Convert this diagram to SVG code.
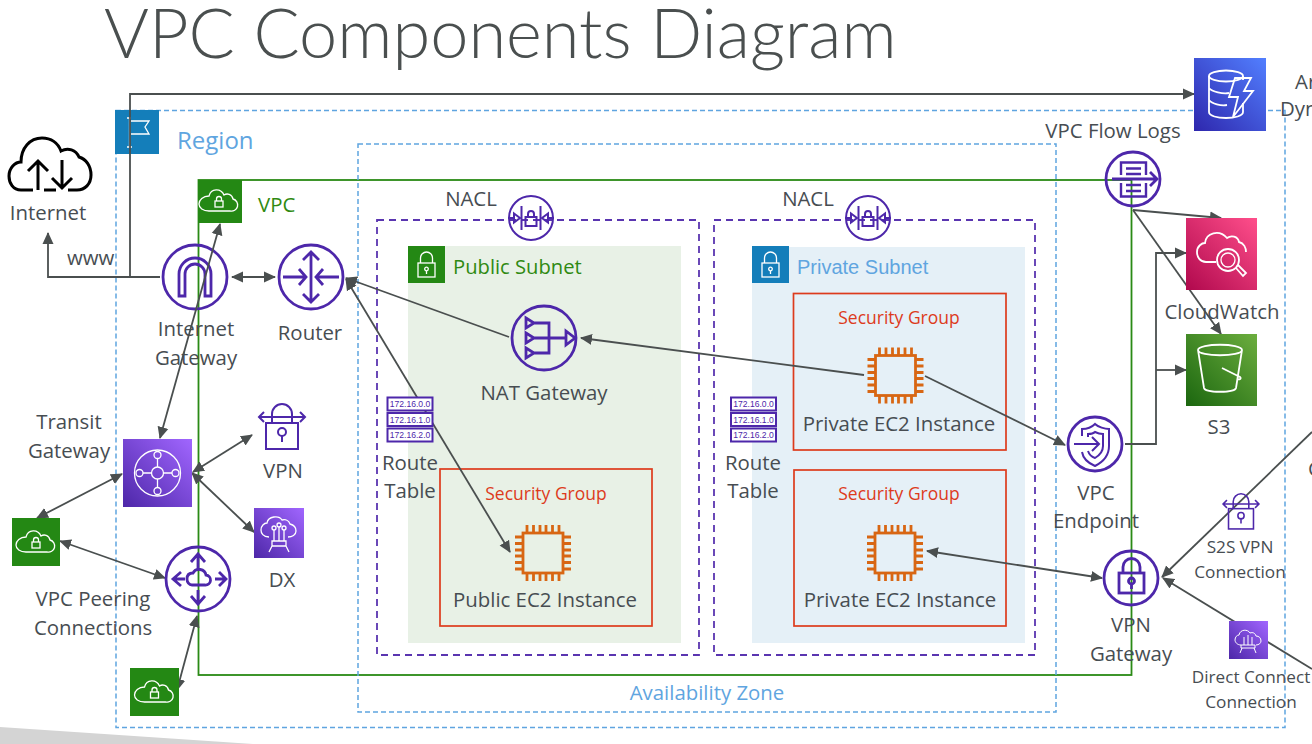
<svg xmlns="http://www.w3.org/2000/svg" width="1312" height="744" viewBox="0 0 1312 744">
<style>
text{font-family:"Open Sans","Noto Sans","DejaVu Sans",sans-serif;font-size:20.400px;fill:#474d52}
.c{text-anchor:middle}
.sg{font-size:17.500px;fill:#dd3b1c;text-anchor:middle}
.s{font-size:17.200px;text-anchor:middle}
.blue{fill:#5fa5e0}
.rt{font-size:8.600px;fill:#4d27aa;text-anchor:middle;font-family:"Liberation Sans",sans-serif}
.p{fill:none;stroke:#4d27aa;stroke-width:2.800}
.t{stroke-width:2}
.w{fill:none;stroke:#fff;stroke-width:1.300}
.o{fill:none;stroke:#d86613;stroke-width:2.800}
.dashb{fill:none;stroke:#5fa5e0;stroke-width:1.500;stroke-dasharray:5 3}
.dashp{fill:none;stroke:#5a35b0;stroke-width:1.800;stroke-dasharray:7 5}
.sgb{fill:none;stroke:#dd3b1c;stroke-width:1.700}
.ln{fill:none;stroke:#4a4f4f;stroke-width:1.800}
.one{marker-end:url(#a)}
.two{marker-start:url(#b);marker-end:url(#a)}
</style>
<defs>
<marker id="a" viewBox="0 0 12 12" refX="11" refY="6" markerWidth="12" markerHeight="12" orient="auto" markerUnits="userSpaceOnUse"><path d="M0 0.500L12 6L0 11.500Z" fill="#4a4f4f"/></marker>
<marker id="b" viewBox="0 0 12 12" refX="1" refY="6" markerWidth="12" markerHeight="12" orient="auto" markerUnits="userSpaceOnUse"><path d="M12 0.500L0 6L12 11.500Z" fill="#4a4f4f"/></marker>
<linearGradient id="gp" x1="0" y1="1" x2="1" y2="0"><stop offset="0" stop-color="#4d27a8"/><stop offset="1" stop-color="#a166ff"/></linearGradient>
<linearGradient id="gg" x1="0" y1="1" x2="1" y2="0"><stop offset="0" stop-color="#1b660f"/><stop offset="1" stop-color="#6cae3e"/></linearGradient>
<linearGradient id="gr" x1="0" y1="1" x2="1" y2="0"><stop offset="0" stop-color="#b0084d"/><stop offset="1" stop-color="#ff4f8b"/></linearGradient>
<linearGradient id="gb" x1="0" y1="1" x2="1" y2="0"><stop offset="0" stop-color="#2e27ad"/><stop offset="1" stop-color="#527fff"/></linearGradient>
<g id="chip">
<rect x="-20" y="-20" width="40" height="40" class="o"/>
<path class="o" d="M-16-20v-8M-9.500-20v-8M-3-20v-8M3-20v-8M9.500-20v-8M16-20v-8M-16 20v8M-9.500 20v8M-3 20v8M3 20v8M9.500 20v8M16 20v8M-20-16h-8M-20-9.500h-8M-20-3h-8M-20 3h-8M-20 9.500h-8M-20 16h-8M20-16h8M20-9.500h8M20-3h8M20 3h8M20 9.500h8M20 16h8"/>
</g>
<g id="route">
<rect x="0" y="0" width="45" height="13" fill="#fff" stroke="#4d27aa" stroke-width="2"/>
<rect x="0" y="15.500" width="45" height="13" fill="#fff" stroke="#4d27aa" stroke-width="2"/>
<rect x="0" y="31" width="45" height="13" fill="#fff" stroke="#4d27aa" stroke-width="2"/>
<text class="rt" x="22.500" y="9.700">172.16.0.0</text>
<text class="rt" x="22.500" y="25.200">172.16.1.0</text>
<text class="rt" x="22.500" y="40.700">172.16.2.0</text>
</g>
<g id="nacl">
<circle r="22" class="p t" fill="none"/>
<path class="p t" d="M-9.500-12V12M9.500-12V12M-23 0h6M23 0h-6"/>
<path class="p t" d="M-11 0l-6-4.500v9ZM11 0l6-4.500v9Z"/>
<rect x="-5.500" y="-1" width="11" height="9" class="p t"/>
<path class="p t" d="M-3-1v-3a3 3 0 0 1 6 0v3"/>
</g>
<g id="vpccloud">
<path class="w" d="M-10 11h21a6 6 0 0 0 3-12c-1-5-6-6-9-4c-3-7-13-7-15 1c-6 0-10 4-10 8s4 7 10 7Z"/>
<rect x="-4" y="1" width="8" height="6" class="w"/>
<path class="w" d="M-2.500 1v-2a2.500 2.500 0 0 1 5 0v2"/>
</g>
<g id="sublock">
<rect x="-8.500" y="-2" width="17" height="14" class="w"/>
<path class="w" d="M-6-2v-5a6 6 0 0 1 12 0v5"/>
<circle cy="4" r="1.800" class="w"/><path class="w" d="M0 6v3"/>
</g>
<g id="vpnlock">
<rect x="-16" y="-3" width="32" height="26" class="p t"/>
<path class="p t" d="M-10-3v-9a10 10 0 0 1 20 0v9M-22-9H22M-18-14l-5 5l5 5M18-14l5 5l-5 5"/>
<circle cy="6" r="4" class="p t"/><path class="p t" d="M0 10v6"/>
</g>
</defs>
<rect width="1312" height="744" fill="#fff"/>
<polygon points="0,727 253,744 0,744" fill="#d4d4d4"/>
<g id="containers">
<rect class="dashb" x="116" y="110.500" width="1169" height="617"/>
<rect x="198.500" y="180" width="933" height="495" fill="none" stroke="#2a8a15" stroke-width="1.800"/>
<rect class="dashb" x="358" y="144" width="698" height="568"/>
<rect class="dashp" x="377" y="220" width="322" height="435"/>
<rect class="dashp" x="714" y="220" width="321" height="435"/>
<rect x="408" y="246" width="273" height="397" fill="#e8f1e6"/>
<rect x="752" y="247" width="273" height="396" fill="#e5f0f7"/>
<rect class="sgb" x="440" y="469" width="212" height="157"/>
<rect class="sgb" x="793.500" y="293.500" width="212.500" height="156.500"/>
<rect class="sgb" x="794" y="470" width="212" height="156"/>
</g>
<g id="title"><text x="104" y="58" style="font-family:Lato,'Open Sans',sans-serif;font-weight:300;font-size:68.500px;fill:#4a4f4f">VPC Components Diagram</text></g>
<g id="region"><rect x="115" y="110" width="44" height="44" fill="#147eba"/><path class="w" d="M127 118h4M127 147h5M129.500 118V147M131 121h18l-4 6l4 7h-18"/><text class="blue" x="177" y="149" style="font-size:24px">Region</text></g>
<g id="vpc"><rect x="198" y="180" width="44" height="43" fill="#248814"/><use href="#vpccloud" x="219" y="200"/><text x="258" y="212" style="fill:#2f8a12">VPC</text></g>
<g id="internet">
<path d="M33 190H21C13 190 9 183 9 176C9 168 15 162 21 162C21 148 30 138 42 138C51 138 58 143 61 151C68 147 76 150 79 157C86 159 91 166 91 175C91 184 85 190 77 190H68M44 190H56" fill="none" stroke="#000" stroke-width="3"/>
<path d="M38 190V161M28 171L38 161L48 171M62 160V188M52 178L62 188L72 178" fill="none" stroke="#000" stroke-width="3"/>
<text class="c" x="48" y="220">Internet</text>
</g>
<g id="www"><text x="67" y="265">www</text></g>
<g id="igw">
<circle cx="195" cy="277" r="32" class="p"/>
<path class="p" d="M179 296V274a16 16 0 0 1 32 0V296h-6V274a10 10 0 0 0-20 0V296Z"/>
<text class="c" x="196" y="336">Internet</text><text class="c" x="196" y="365">Gateway</text>
</g>
<g id="router">
<circle cx="311" cy="277" r="32" class="p"/>
<path class="p" d="M311 252V302M303 260l8-8l8 8M303 294l8 8l8-8M283 277h23M299 269l7 8l-7 8M339 277h-23M323 269l-7 8l7 8"/>
<text class="c" x="310" y="340">Router</text>
</g>
<g id="public-subnet"><rect x="408" y="246" width="37" height="37" fill="#248814"/><use href="#sublock" x="426.500" y="265"/><text x="453" y="274" style="fill:#2f8a12;font-size:20.200px">Public Subnet</text></g>
<g id="private-subnet"><rect x="752" y="246" width="37" height="37" fill="#147eba"/><use href="#sublock" x="770.500" y="265"/><text class="blue" x="797" y="274" style="font-family:'Liberation Sans',sans-serif;font-size:20px">Private Subnet</text></g>
<g id="connectors">
<path class="ln one" d="M160 277H48V233"/>
<path class="ln one" d="M130 277V94H1194"/>
<path class="ln two" d="M232 277H275"/>
<path class="ln two" d="M346 279L510 552"/>
<path class="ln one" d="M509 337L346 278"/>
<path class="ln one" d="M864 375L581 338"/>
<path class="ln one" d="M925 376L1065 445"/>
<path class="ln two" d="M927 551L1102 578"/>
<path class="ln one" d="M1125 444H1156V253H1186"/>
<path class="ln one" d="M1156 370H1186"/>
<path class="ln one" d="M1133 210L1221 218"/>
<path class="ln one" d="M1133 210L1221 334"/>
<path class="ln two" d="M220 224L160 438"/>
<path class="ln two" d="M193 472L252 435"/>
<path class="ln two" d="M192 473L254 532"/>
<path class="ln two" d="M122 474L37 518"/>
<path class="ln two" d="M60 541L165 578"/>
<path class="ln two" d="M197 616L177 690"/>
<path class="ln one" d="M1312 432L1162 577"/>
<path class="ln one" d="M1312 669L1163 578"/>
</g>
<g id="tgw">
<rect x="123" y="439" width="69" height="68" fill="url(#gp)"/>
<g class="w"><circle cx="157.500" cy="473" r="23"/><circle cx="157.500" cy="473" r="6"/><circle cx="157.500" cy="455" r="3.500"/><circle cx="157.500" cy="491" r="3.500"/><circle cx="139.500" cy="473" r="3.500"/><circle cx="175.500" cy="473" r="3.500"/><path d="M157.500 458.500V467M157.500 479V487.500M143 473H151.500M163.500 473H172"/></g>
<text class="c" x="69" y="429">Transit</text><text class="c" x="69" y="458">Gateway</text>
</g>
<g id="vpn"><use href="#vpnlock" x="282" y="426"/><text class="c" x="283" y="478">VPN</text></g>
<g id="dx">
<rect x="254" y="508" width="50" height="50" fill="url(#gp)"/>
<path class="w" d="M269 537c-6 0-8-4-8-7c0-4 3-7 6-7c1-7 12-8 15-3c4-1 7 1 8 4c4 1 6 3 6 7c0 4-4 6-8 6"/>
<path class="w" d="M274 541V530M279 541V527M284 541V530M272 541h14v5h-14ZM272 546l-3 6M286 546l3 6"/>
<circle cx="274" cy="528" r="2" class="w"/><circle cx="279" cy="525" r="2" class="w"/><circle cx="284" cy="528" r="2" class="w"/>
<text class="c" x="282" y="587">DX</text>
</g>
<g id="vpc-peer-left"><rect x="12" y="518" width="48" height="48" fill="#248814"/><use href="#vpccloud" x="36" y="541"/></g>
<g id="vpc-peer-bottom"><rect x="130" y="668" width="49" height="48" fill="#248814"/><use href="#vpccloud" x="154.500" y="691"/></g>
<g id="peering">
<circle cx="198" cy="579" r="32" class="p"/>
<path class="p" d="M198 555V570M191 562l7-8l7 8M198 590V603M191 596l7 8l7-8M174 579H185M181 572l-8 7l8 7M215 579H225M219 572l7 7l-7 7M192 585h13a5 5 0 0 0 1-10c-1-6-10-8-13-2c-5 0-6 3-6 6s2 6 5 6Z"/>
<text class="c" x="93" y="606">VPC Peering</text><text class="c" x="93" y="635">Connections</text>
</g>
<g id="nacl-public"><use href="#nacl" x="531" y="218"/><text class="c" x="471" y="206">NACL</text></g>
<g id="nacl-private"><use href="#nacl" x="868" y="218"/><text class="c" x="808" y="206">NACL</text></g>
<g id="nat">
<circle cx="544" cy="338" r="32" class="p"/>
<path class="p" d="M534 323H549V353H534M534 338H566M526 318l8 5l-8 5ZM526 333l8 5l-8 5ZM526 348l8 5l-8 5ZM566 331l9 7l-9 7Z"/>
<text class="c" x="544" y="400">NAT Gateway</text>
</g>
<g id="route-public"><use href="#route" x="387.500" y="397.500"/><text class="c" x="410" y="470">Route</text><text class="c" x="410" y="498">Table</text></g>
<g id="route-private"><use href="#route" x="731" y="397.500"/><text class="c" x="753" y="470">Route</text><text class="c" x="753" y="498">Table</text></g>
<g id="ec2-public"><use href="#chip" x="543" y="553"/><text class="sg" x="546" y="500">Security Group</text><text class="c" x="545" y="607">Public EC2 Instance</text></g>
<g id="ec2-private-a"><use href="#chip" x="895.500" y="375.500"/><text class="sg" x="899" y="324">Security Group</text><text class="c" x="899" y="431">Private EC2 Instance</text></g>
<g id="ec2-private-b"><use href="#chip" x="895" y="553"/><text class="sg" x="899" y="500">Security Group</text><text class="c" x="900" y="607">Private EC2 Instance</text></g>
<g id="az"><text class="c blue" x="707" y="700">Availability Zone</text></g>
<g id="dynamodb">
<rect x="1194" y="58" width="72" height="73" fill="url(#gb)"/>
<g class="w" style="stroke-width:1.800">
<ellipse cx="1226" cy="76" rx="17" ry="5.500"/>
<path d="M1209 76V112c0 8 34 8 34 0V103M1209 88c3 4 14 6 20 5M1209 100c3 4 12 6 18 5M1243 76V80"/>
<path d="M1235 78h16l-7 13h9l-20 26l5-20h-9Z"/>
</g>
<text x="1295" y="89">Ar</text><text x="1280" y="116">Dyn</text>
</g>
<g id="flowlogs">
<circle cx="1133" cy="179" r="27" class="p"/>
<path class="p" style="stroke-width:2.400" d="M1121 175V162.500H1146V175M1121 183V196.500H1146V183M1126 168.500H1141M1126 174H1141M1126 185H1141M1126 191H1141"/>
<path class="p" d="M1112 179H1156M1150 172l7 7l-7 7"/>
<text class="c" x="1113" y="138">VPC Flow Logs</text>
</g>
<g id="cloudwatch">
<rect x="1186" y="218" width="71" height="72" fill="url(#gr)"/>
<path class="w" d="M1216 262h-10c-6 0-9-5-9-10c0-6 5-9 8-9c1-10 14-14 22-5c4-3 11-2 12 4c5 1 7 6 7 10" style="stroke-width:1.800"/>
<circle cx="1228" cy="260" r="11" class="w" style="stroke-width:1.800"/><circle cx="1228" cy="260" r="7" class="w"/>
<path class="w" d="M1236 268l7 8l3-3l-8-8" style="stroke-width:1.800"/>
<text class="c" x="1222" y="319">CloudWatch</text>
</g>
<g id="s3">
<rect x="1186" y="334" width="71" height="72" fill="url(#gg)"/>
<path class="w" d="M1198 350c0-7 44-7 44 0l-6 38c-1 5-31 5-32 0ZM1198 350c0 7 44 7 44 0M1222 368c6 3 14 7 18 9c2 2-1 3-3 2" style="stroke-width:1.800"/>
<text class="c" x="1219" y="434">S3</text>
</g>
<g id="endpoint">
<circle cx="1095" cy="444" r="27" class="p"/>
<path class="p t" d="M1074 444H1098M1092 437l7 7l-7 7M1082 436V429c5 0 10-2 13-5c3 3 10 5 14 5V446c0 10-6 16-14 20c-7-3-12-8-13-14M1088 437V434c3 0 6-1 7-2c2 1 5 2 8 2V446c0 6-3 9-8 12c-3-1-6-4-7-7"/>
<text class="c" x="1096" y="500">VPC</text><text class="c" x="1096" y="528">Endpoint</text>
</g>
<g id="vpn-gateway">
<circle cx="1131" cy="578" r="27" class="p"/>
<rect x="1119" y="573" width="25" height="20" class="p"/>
<path class="p" d="M1123 573v-6a8 8 0 0 1 17 0v6"/>
<circle cx="1131.500" cy="581" r="3" class="p"/><path class="p" d="M1131.500 584v5"/>
<text class="c" x="1131" y="632">VPN</text><text class="c" x="1131" y="661">Gateway</text>
</g>
<g id="s2s-vpn"><g transform="translate(1241 511) scale(.78)"><use href="#vpnlock"/></g>
<text class="s" x="1240" y="553">S2S VPN</text><text class="s" x="1240" y="578">Connection</text></g>
<g id="direct-connect">
<rect x="1229" y="621" width="39" height="38" fill="url(#gp)"/>
<path class="w" d="M1241 645c-4 0-6-3-6-5c0-3 2-5 4-5c1-6 9-6 11-2c3-1 5 0 6 3c3 0 5 2 5 5c0 2-2 4-5 4" style="stroke-width:1"/>
<path class="w" d="M1244 645v-8M1248 645v-10M1252 645v-8M1241 645h14v3h-14ZM1242 648l-2 5M1254 648l2 5" style="stroke-width:1"/>
<text class="s" x="1251" y="683">Direct Connect</text><text class="s" x="1251" y="708">Connection</text>
</g>
<g id="edge-label"><text x="1308" y="476">C</text></g>
</svg>
